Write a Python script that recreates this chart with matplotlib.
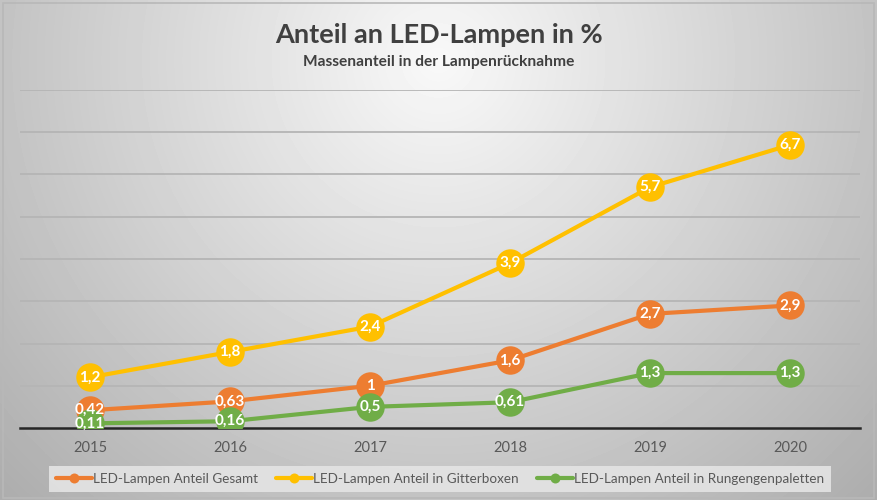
import numpy as np
import matplotlib
matplotlib.use("Agg")
import matplotlib.pyplot as plt
from matplotlib.patches import Rectangle

# data
years = ["2015", "2016", "2017", "2018", "2019", "2020"]
gesamt = [0.42, 0.63, 1.0, 1.6, 2.7, 2.9]
gitterboxen = [1.2, 1.8, 2.4, 3.9, 5.7, 6.7]
rungen = [0.11, 0.16, 0.5, 0.61, 1.3, 1.3]
series_names = [
    "LED-Lampen Anteil Gesamt",
    "LED-Lampen Anteil in Gitterboxen",
    "LED-Lampen Anteil in Rungengenpaletten",
]
series_colors = ["#ED7D31", "#FFC000", "#70AD47"]

title = "Anteil an LED-Lampen in %"
subtitle = "Massenanteil in der Lampenrücknahme"

plt.rcParams["font.family"] = ["Lato", "DejaVu Sans"]

fig = plt.figure(figsize=(8.77, 5.0), dpi=100)

# radial grey background like the office chart style
bg = fig.add_axes([0, 0, 1, 1], zorder=-10)
h, w = 500, 877
yy, xx = np.mgrid[0:h, 0:w]
r = np.sqrt(((xx - 438) / 560.0) ** 2 + ((yy - 60) / 560.0) ** 2)
shade = np.clip(0.975 - 0.27 * r, 0, 1)
bg.imshow(shade, cmap="gray", vmin=0, vmax=1, aspect="auto",
          extent=[0, 1, 0, 1], origin="upper")
bg.add_patch(Rectangle((0.003, 0.004), 0.994, 0.99, fill=False,
                       edgecolor="#b8b8b8", lw=1.2))
bg.set_xlim(0, 1)
bg.set_ylim(0, 1)
bg.axis("off")

ax = fig.add_axes([20 / 877, 1 - 428 / 500, 840 / 877, 338 / 500])
ax.patch.set_alpha(0)
x = np.arange(len(years))

for name, vals, col in zip(series_names, [gesamt, gitterboxen, rungen], series_colors):
    ax.plot(x, vals, color=col, lw=3, marker="o", markersize=20.5,
            markeredgewidth=0, label=name, solid_capstyle="round", zorder=3)

for vals in [gesamt, gitterboxen, rungen]:
    for xi, v in zip(x, vals):
        ax.text(xi, v, f"{v:g}".replace(".", ","), ha="center", va="center",
                color="white", fontsize=11, fontweight="bold", zorder=5)

ax.set_xlim(-0.5, len(years) - 0.5)
ax.set_ylim(0, 8)
ax.set_yticks(np.arange(1, 9))
ax.yaxis.grid(True, color="#b5b5b5", lw=1.3)
ax.set_axisbelow(True)
ax.tick_params(axis="y", left=False, labelleft=False)
ax.set_xticks(x)
ax.set_xticklabels(years)
ax.tick_params(axis="x", length=0, pad=9, labelsize=10.5, labelcolor="#595959")
for s in ["top", "right", "left"]:
    ax.spines[s].set_visible(False)
ax.spines["bottom"].set_color("#262626")
ax.spines["bottom"].set_linewidth(1.8)
ax.spines["bottom"].set_zorder(2)

fig.text(0.5, 1 - 35 / 500, title, ha="center", va="center",
         fontsize=19.5, fontweight="bold", color="#404040")
fig.text(0.5, 1 - 62 / 500, subtitle, ha="center", va="center",
         fontsize=11.2, fontweight="bold", color="#404040")

leg = fig.legend(loc="center", bbox_to_anchor=(440 / 877, 1 - 479 / 500), ncol=3,
                 frameon=True, fontsize=9.7, handlelength=2.7, columnspacing=1.3,
                 handletextpad=0.1, markerscale=0.35, borderpad=0.5)
leg.get_frame().set_facecolor("#e4e4e4")
leg.get_frame().set_edgecolor("none")
leg.get_frame().set_alpha(0.9)
leg.get_frame().set_boxstyle("square", pad=0)
for t in leg.get_texts():
    t.set_color("#595959")

fig.savefig("out.png", dpi=100)
